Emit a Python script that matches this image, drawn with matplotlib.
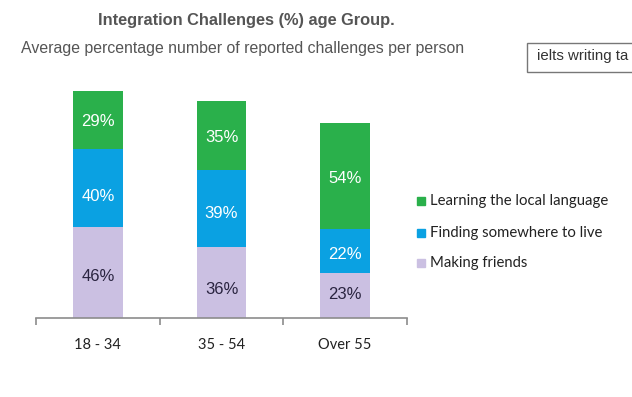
import matplotlib
matplotlib.use("Agg")
import matplotlib.pyplot as plt
from matplotlib.patches import Rectangle

categories = ["18 - 34", "35 - 54", "Over 55"]
making_friends = [46, 36, 23]
finding_home = [40, 39, 22]
learning_language = [29, 35, 54]
series_names = ["Learning the local language", "Finding somewhere to live", "Making friends"]

# layout only: downward nudge of each value label in pixels (labels in the original sit off-centre)
nudge_friends = [4, 7, -1]
nudge_home = [9, 5, 3]
nudge_lang = [1, 2, 2]

W, H = 632, 397
PX = 1.97  # pixels per percentage point
fig = plt.figure(figsize=(W / 100, H / 100), dpi=100)
fig.patch.set_facecolor("white")

# axes in pixel coordinates: left 36, right 407, bottom 318, top 80
ax = fig.add_axes([36 / W, (H - 318) / H, (407 - 36) / W, (318 - 80) / H])
ax.set_xlim(-0.5, 2.5)
ax.set_ylim(0, 238 / PX)

c_green = "#2AB04B"
c_blue = "#0AA1E2"
c_lav = "#CBC0E2"
x = list(range(len(categories)))
bw = 0.40

b1 = ax.bar(x, making_friends, bw, color=c_lav, label=series_names[2])
bottom2 = making_friends
b2 = ax.bar(x, finding_home, bw, bottom=bottom2, color=c_blue, label=series_names[1])
bottom3 = [a + b for a, b in zip(making_friends, finding_home)]
b3 = ax.bar(x, learning_language, bw, bottom=bottom3, color=c_green, label=series_names[0])

lab_font = dict(family="Liberation Sans", fontsize=12)
for vals, bots, nud, col in [(making_friends, [0, 0, 0], nudge_friends, "#2a2440"),
                             (finding_home, bottom2, nudge_home, "white"),
                             (learning_language, bottom3, nudge_lang, "white")]:
    for xi, v, bo, n in zip(x, vals, bots, nud):
        ax.text(xi, bo + v / 2 - n / PX, f"{v}%", ha="center", va="center", color=col, **lab_font)

for s in ["top", "right", "left"]:
    ax.spines[s].set_visible(False)
ax.spines["bottom"].set_color("#8c8c8c")
ax.spines["bottom"].set_linewidth(1.2)
ax.set_yticks([])
ax.set_xticks([-0.5, 0.5, 1.5, 2.5], minor=False)
ax.set_xticklabels([])
ax.tick_params(axis="x", direction="out", length=5, color="#8c8c8c", width=1.2)
for xi, c in zip(x, categories):
    ax.text(xi, -27 / PX, c, ha="center", va="center", fontsize=10.5,
            family="Lato", color="#222222")

# Titles
fig.text(246 / W, 1 - 20 / H, "Integration Challenges (%) age Group.", ha="center", va="center",
         fontsize=11.8, fontweight="bold", family="Liberation Sans", color="#555555")
fig.text(243 / W, 1 - 48 / H, "Average percentage number of reported challenges per person", ha="center",
         va="center", fontsize=11.4, family="Liberation Sans", color="#555555")

# Legend (manual, series order top to bottom)
leg_y = [201, 233, 263]
leg_cols = [c_green, c_blue, c_lav]
for yy, col, name in zip(leg_y, leg_cols, series_names):
    fig.patches.append(Rectangle((417 / W, 1 - (yy + 4) / H), 8 / W, 8 / H,
                                 transform=fig.transFigure, color=col))
    fig.text(430 / W, 1 - yy / H, name, ha="left", va="center", fontsize=10.7,
             family="Lato", color="#222222")

# search box at top right
fig.patches.append(Rectangle((527 / W, 1 - 72 / H), 120 / W, 29 / H, transform=fig.transFigure,
                             facecolor="white", edgecolor="#777777", linewidth=1))
fig.text(537 / W, 1 - 56 / H, "ielts writing ta", ha="left", va="center", fontsize=10.8,
         family="Liberation Sans", color="#333333")

fig.savefig("out.png", dpi=100)
